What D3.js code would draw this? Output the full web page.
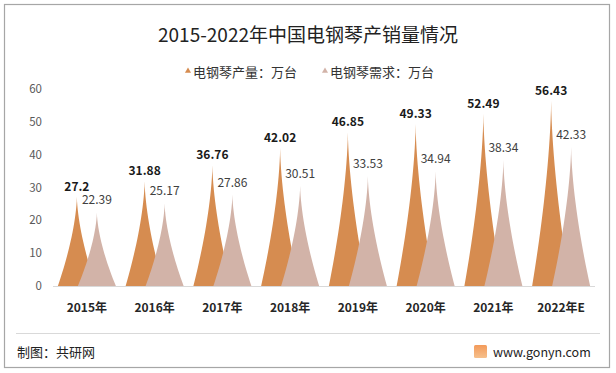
<!DOCTYPE html>
<html>
<head>
<meta charset="utf-8">
<script src="https://d3js.org/d3.v7.min.js"></script>
<style>
  body { margin: 0; background: #fff; }
  svg { display: block; font-family: "Noto Sans CJK SC", "Noto Sans", sans-serif; }
</style>
</head>
<body>
<svg id="chart" width="616" height="373"></svg>
<script>
// data
var years = ["2015年", "2016年", "2017年", "2018年", "2019年", "2020年", "2021年", "2022年E"];
var output = [27.2, 31.88, 36.76, 42.02, 46.85, 49.33, 52.49, 56.43];
var demand = [22.39, 25.17, 27.86, 30.51, 33.53, 34.94, 38.34, 42.33];
var yTicks = [0, 10, 20, 30, 40, 50, 60];
var seriesNames = ["电钢琴产量：万台", "电钢琴需求：万台"];

var colOut = "#d68c50", colDem = "#d2b3a8";

var svg = d3.select("#chart");

// outer frame
svg.append("rect").attr("x", 4.5).attr("y", 4.5).attr("width", 605).attr("height", 363)
  .attr("fill", "#fff").attr("stroke", "#a6a6a6").attr("stroke-width", 1.2);

svg.append("text").attr("x", 308).attr("y", 42).attr("text-anchor", "middle")
  .attr("font-size", 19).attr("fill", "#222").text("2015-2022年中国电钢琴产销量情况");

// legend
var leg = svg.append("g").attr("font-size", 13).attr("fill", "#333");
[[185, colOut], [322, colDem]].forEach(function(d, i) {
  leg.append("path").attr("d", d3.symbol(d3.symbolTriangle, 16)())
    .attr("transform", "translate(" + (d[0] + 3) + ",71)").attr("fill", d[1]);
  leg.append("text").attr("x", d[0] + 8).attr("y", 76.5).text(seriesNames[i]);
});

var x = d3.scaleBand().domain(years).range([53, 595]);
var y = d3.scaleLinear().domain([0, 60]).range([286, 89]);

// y axis labels
svg.append("g").selectAll("text").data(yTicks).join("text")
  .attr("x", 42).attr("y", function(d) { return y(d) + 4; })
  .attr("text-anchor", "end").attr("font-size", 11.5).attr("fill", "#595959")
  .text(function(d) { return d; });

// pointed column: half width shrinks as (1-f)^1.6 towards the tip
var steps = d3.range(0, 1.0001, 0.05);
var line = d3.line();
function spike(cx, v, hw) {
  var b = y(0), t = y(v);
  var left = steps.map(function(f) { return [cx - hw * Math.pow(1 - f, 1.6), b + (t - b) * f]; });
  var right = steps.slice().reverse().map(function(f) { return [cx + hw * Math.pow(1 - f, 1.6), b + (t - b) * f]; });
  return line(left.concat(right)) + "Z";
}

var hw = 19, off = 10;
var g = svg.append("g");
g.selectAll("path.out").data(output).join("path").attr("class", "out")
  .attr("d", function(d, i) { return spike(x(years[i]) + x.bandwidth() / 2 - off, d, hw); })
  .attr("fill", colOut);
g.selectAll("path.dem").data(demand).join("path").attr("class", "dem")
  .attr("d", function(d, i) { return spike(x(years[i]) + x.bandwidth() / 2 + off, d, hw); })
  .attr("fill", colDem);

// baseline
svg.append("line").attr("x1", 53).attr("x2", 595).attr("y1", y(0) + 0.5).attr("y2", y(0) + 0.5)
  .attr("stroke", "#d9d9d9");

// value labels
svg.append("g").selectAll("text").data(output).join("text")
  .attr("x", function(d, i) { return x(years[i]) + x.bandwidth() / 2 - off; })
  .attr("y", function(d) { return y(d) - 6; })
  .attr("text-anchor", "middle").attr("font-size", 12).attr("font-weight", "bold").attr("fill", "#1a1a1a")
  .text(function(d) { return d; });
svg.append("g").selectAll("text").data(demand).join("text")
  .attr("x", function(d, i) { return x(years[i]) + x.bandwidth() / 2 + off; })
  .attr("y", function(d) { return y(d) - 8; })
  .attr("text-anchor", "middle").attr("font-size", 12).attr("fill", "#404040")
  .text(function(d) { return d; });

// x labels
svg.append("g").selectAll("text").data(years).join("text")
  .attr("x", function(d) { return x(d) + x.bandwidth() / 2; })
  .attr("y", 312).attr("text-anchor", "middle").attr("font-size", 12).attr("font-weight", "bold")
  .attr("fill", "#262626").text(function(d) { return d; });

// footer
svg.append("line").attr("x1", 16).attr("x2", 600).attr("y1", 333.5).attr("y2", 333.5).attr("stroke", "#d9d9d9");
svg.append("text").attr("x", 17).attr("y", 357).attr("font-size", 13).attr("fill", "#222").text("制图：共研网");
var lg = svg.append("defs").append("linearGradient").attr("id", "lg").attr("x1", 0).attr("y1", 0).attr("x2", 0).attr("y2", 1);
lg.append("stop").attr("offset", 0).attr("stop-color", "#f39a5a");
lg.append("stop").attr("offset", 1).attr("stop-color", "#f6c08c");
svg.append("rect").attr("x", 474).attr("y", 345).attr("width", 13).attr("height", 13).attr("rx", 1.5).attr("fill", "url(#lg)");
svg.append("text").attr("x", 493).attr("y", 357).attr("font-size", 12.5).attr("fill", "#222").text("www.gonyn.com");
</script>
</body>
</html>
